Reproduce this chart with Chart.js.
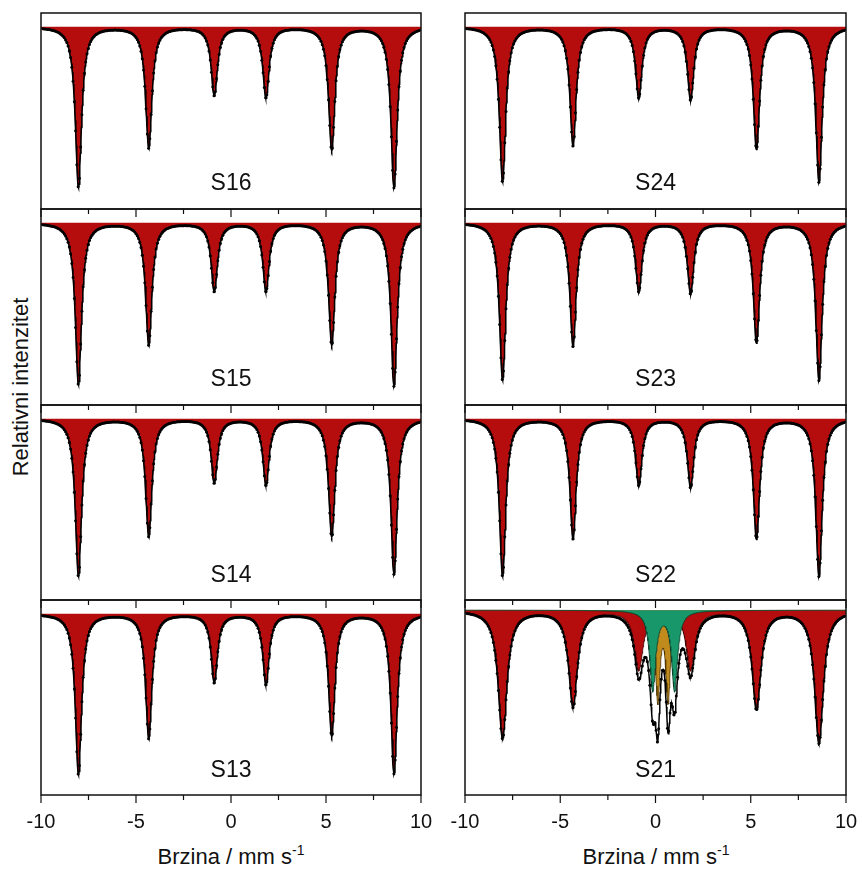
<!DOCTYPE html>
<html>
<head>
<meta charset="utf-8">
<script src="https://cdn.jsdelivr.net/npm/chart.js@4.4.1/dist/chart.umd.min.js"></script>
<style>
  body { margin: 0; background: #fff; font-family: Arial, "Liberation Sans", sans-serif; }
  #fig { position: relative; width: 862px; height: 872px; overflow: hidden; }
  canvas { position: absolute; }
  .xt { position: absolute; font-size: 22px; color: #111; white-space: nowrap; transform: translateX(-50%); }
  .xt sup { font-size: 14px; vertical-align: 9px; line-height: 0; }
  .yt { position: absolute; font-size: 22px; color: #111; white-space: nowrap;
        transform: translate(-50%, -50%) rotate(-90deg); }
</style>
</head>
<body>
<div id="fig">
  <div class="yt" style="left:21px; top:387px;">Relativni intenzitet</div>
  <div class="xt" style="left:231px; top:844px;">Brzina / mm s<sup>-1</sup></div>
  <div class="xt" style="left:656px; top:844px;">Brzina / mm s<sup>-1</sup></div>
</div>
<script>
// brzina (mm/s)
const velMin = -10, velMax = 10;
const majorTicks = [-10, -5, 0, 5, 10];
const minorTicks = [-7.5, -2.5, 2.5, 7.5];

// uzorci: lijevi stupac odozgo, pa desni
const panelNames = ['S16', 'S15', 'S14', 'S13', 'S24', 'S23', 'S22', 'S21'];

// sekstet (hematit) - polozaji linija
const sextetPositions = [-8.03, -4.33, -0.88, 1.84, 5.30, 8.58];

// dubine linija seksteta (relativna apsorpcija), procijenjeno sa slike
const depthS16 = [0.141, 0.106, 0.060, 0.062, 0.108, 0.141];
const depthS15 = [0.142, 0.107, 0.060, 0.060, 0.107, 0.143];
const depthS14 = [0.138, 0.103, 0.056, 0.058, 0.103, 0.136];
const depthS13 = [0.141, 0.109, 0.060, 0.062, 0.107, 0.140];
const depthS24 = [0.136, 0.104, 0.062, 0.064, 0.107, 0.136];
const depthS23 = [0.138, 0.108, 0.060, 0.062, 0.105, 0.138];
const depthS22 = [0.138, 0.105, 0.058, 0.060, 0.105, 0.138];
const depthS21 = [0.112, 0.084, 0.052, 0.052, 0.086, 0.116];
const sextetDepths = [depthS16, depthS15, depthS14, depthS13, depthS24, depthS23, depthS22, depthS21];

// sirina linija (FWHM, mm/s)
const sextetWidths = [0.40, 0.40, 0.40, 0.40, 0.40, 0.40, 0.40, 0.55];

// S21 dubleti
const greenPositions = [-0.15, 1.00];
const greenDepth = 0.070;
const greenWidth = 0.38;
const orangePositions = [0.12, 0.66];
const orangeDepth = 0.078;
const orangeWidth = 0.28;

// granice y osi po panelu
const yMaxByPanel = [1.012, 1.012, 1.012, 1.012, 1.012, 1.012, 1.012, 1.009];
const yMinByPanel = [0.840, 0.840, 0.841, 0.841, 0.840, 0.840, 0.841, 0.838];

const channelCount = 300;
const curveStep = 0.025;

// raspored panela na slici
const colX = [[41, 421], [465, 846]];
const rowY = [13, 209, 405, 600, 795];
const pad = { left: 30, right: 30, top: 4, bottom: 40 };

function lorentz(v, positions, depths, width) {
    const h = width / 2;
    let s = 0;
    positions.forEach((p, i) => {
        const d = Array.isArray(depths) ? depths[i] : depths;
        s += d / (1 + ((v - p) / h) ** 2);
    });
    return s;
}

const curveV = [];
for (let v = velMin; v <= velMax + 1e-9; v += curveStep) curveV.push(+v.toFixed(4));
const channelV = [];
for (let i = 0; i < channelCount; i++) channelV.push(velMin + 0.1 + i * (velMax - velMin - 0.2) / (channelCount - 1));

const framePlugin = {
    id: 'frame',
    afterDraw(chart, args, opts) {
        const { ctx, chartArea: a, scales } = chart;
        ctx.save();
        ctx.strokeStyle = '#111';
        ctx.lineWidth = 1.5;
        ctx.strokeRect(a.left, a.top, a.right - a.left, a.bottom - a.top);
        ctx.lineWidth = 1.2;
        ctx.beginPath();
        majorTicks.forEach(t => {
            const x = scales.x.getPixelForValue(t);
            ctx.moveTo(x, a.bottom); ctx.lineTo(x, a.bottom + 8);
        });
        minorTicks.forEach(t => {
            const x = scales.x.getPixelForValue(t);
            ctx.moveTo(x, a.bottom); ctx.lineTo(x, a.bottom + 5);
        });
        ctx.stroke();
        ctx.fillStyle = '#111';
        ctx.textAlign = 'center';
        ctx.textBaseline = 'middle';
        if (opts.bottom) {
            ctx.font = '20px Arial, "Liberation Sans", sans-serif';
            majorTicks.forEach(t => ctx.fillText(String(t), scales.x.getPixelForValue(t), a.bottom + 27));
        }
        ctx.font = '23px Arial, "Liberation Sans", sans-serif';
        ctx.fillText(opts.label, (a.left + a.right) / 2, a.top + 171);
        ctx.restore();
    }
};

const fig = document.getElementById('fig');

panelNames.forEach((name, k) => {
    const col = k < 4 ? 0 : 1;
    const row = k % 4;
    const x0 = colX[col][0], x1 = colX[col][1];
    const y0 = rowY[row], y1 = rowY[row + 1];
    const cv = document.createElement('canvas');
    cv.width = (x1 - x0) + pad.left + pad.right;
    cv.height = (y1 - y0) + pad.top + pad.bottom;
    cv.style.left = (x0 - pad.left) + 'px';
    cv.style.top = (y0 - pad.top) + 'px';
    fig.appendChild(cv);

    const depths = sextetDepths[k];
    const width = sextetWidths[k];
    const hasDoublets = name === 'S21';

    const sextet = v => lorentz(v, sextetPositions, depths, width);
    const green = v => hasDoublets ? lorentz(v, greenPositions, greenDepth, greenWidth) : 0;
    const orange = v => hasDoublets ? lorentz(v, orangePositions, orangeDepth, orangeWidth) : 0;
    const total = v => 1 - sextet(v) - green(v) - orange(v);

    const datasets = [
        {
            label: 'mjerenje', type: 'scatter', order: 0,
            data: channelV.map(v => ({ x: v, y: total(v) })),
            pointRadius: 1.5, pointBackgroundColor: '#000', pointBorderWidth: 0, showLine: false
        },
        {
            label: 'ukupno', order: 1,
            data: curveV.map(v => ({ x: v, y: total(v) })),
            borderColor: '#000', borderWidth: 1.5, pointRadius: 0, fill: false
        },
        {
            label: 'sekstet', order: 4,
            data: curveV.map(v => ({ x: v, y: 1 - sextet(v) })),
            borderColor: '#3a0000', borderWidth: 0.8, pointRadius: 0,
            backgroundColor: '#b50d0d', fill: { value: 1 }
        }
    ];
    if (hasDoublets) {
        datasets.push({
            label: 'dublet 1', order: 2,
            data: curveV.map(v => ({ x: v, y: 1 - green(v) })),
            borderColor: '#0d3d2a', borderWidth: 0.8, pointRadius: 0,
            backgroundColor: '#17976a', fill: { value: 1 }
        });
        datasets.push({
            label: 'dublet 2', order: 3,
            data: curveV.map(v => ({ x: v, y: 1 - orange(v) })),
            borderColor: '#4a3200', borderWidth: 0.8, pointRadius: 0,
            backgroundColor: '#c08a1c', fill: { value: 1 }
        });
    }

    new Chart(cv, {
        type: 'line',
        data: { datasets },
        options: {
            responsive: false,
            animation: false,
            parsing: false,
            layout: { padding: pad },
            scales: {
                x: { type: 'linear', min: velMin, max: velMax, display: false },
                y: { min: yMinByPanel[k], max: yMaxByPanel[k], display: false }
            },
            plugins: {
                legend: { display: false },
                tooltip: { enabled: false },
                frame: { label: name, bottom: row === 3 }
            }
        },
        plugins: [framePlugin]
    });
});
</script>
</body>
</html>
